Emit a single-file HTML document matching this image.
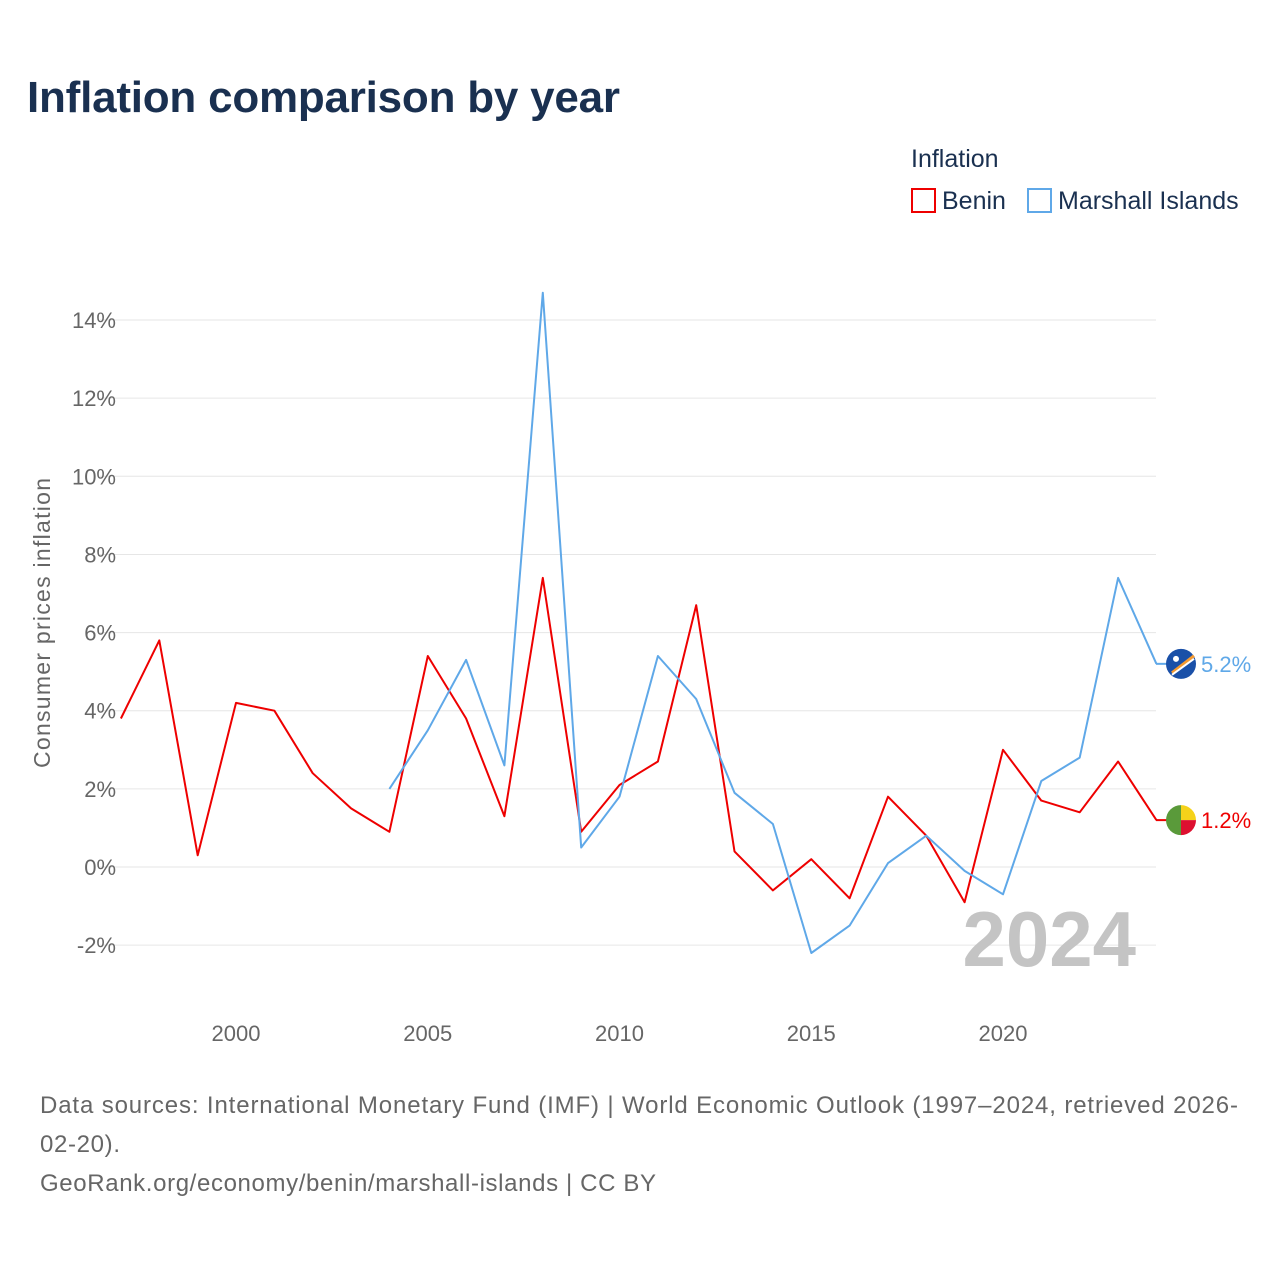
<!DOCTYPE html>
<html><head><meta charset="utf-8"><style>
body{margin:0;width:1280px;height:1280px;background:#fff;font-family:"Liberation Sans",sans-serif;overflow:hidden}
svg text{font-family:"Liberation Sans",sans-serif}
</style></head><body>
<svg id="chart" width="1280" height="1280">
<text x="27" y="112" font-size="44" font-weight="bold" fill="#1a3050" textLength="593">Inflation comparison by year</text>
<text x="911" y="167" font-size="25" fill="#1a3050">Inflation</text>
<g><rect x="912" y="189" width="23" height="23" fill="none" stroke="#ee0000" stroke-width="2"/><text x="942" y="209" font-size="25" fill="#1a3050">Benin</text></g>
<g><rect x="1028" y="189" width="23" height="23" fill="none" stroke="#5fa8e8" stroke-width="2"/><text x="1058" y="209" font-size="25" fill="#1a3050">Marshall Islands</text></g>
<text transform="translate(50,623) rotate(-90)" text-anchor="middle" font-size="23" fill="#666" textLength="290">Consumer prices inflation</text>
<g id="grid"></g><g id="xt"></g>
<text x="1136" y="966" text-anchor="end" font-size="78" font-weight="bold" fill="#c4c4c4">2024</text>
<g id="series"></g>
<text x="40" y="1113" font-size="24" fill="#666" textLength="1198">Data sources: International Monetary Fund (IMF) | World Economic Outlook (1997–2024, retrieved 2026-</text>
<text x="40" y="1152" font-size="24" fill="#666" textLength="80">02-20).</text>
<text x="40" y="1191" font-size="24" fill="#666" textLength="616">GeoRank.org/economy/benin/marshall-islands | CC BY</text>
</svg>
<script>
const years=[1997,1998,1999,2000,2001,2002,2003,2004,2005,2006,2007,2008,2009,2010,2011,2012,2013,2014,2015,2016,2017,2018,2019,2020,2021,2022,2023,2024];
const benin=[3.8,5.8,0.3,4.2,4.0,2.4,1.5,0.9,5.4,3.8,1.3,7.4,0.9,2.1,2.7,6.7,0.4,-0.6,0.2,-0.8,1.8,0.8,-0.9,3.0,1.7,1.4,2.7,1.2];
const marshall=[null,null,null,null,null,null,null,2.0,3.5,5.3,2.6,14.7,0.5,1.8,5.4,4.3,1.9,1.1,-2.2,-1.5,0.1,0.8,-0.1,-0.7,2.2,2.8,7.4,5.2];
const yTicks=[-2,0,2,4,6,8,10,12,14];
const xTicks=[2000,2005,2010,2015,2020];
const NS="http://www.w3.org/2000/svg";
const X=y=>236+(y-2000)*38.35;
const Y=v=>867-v*39.07;
function mk(tag,attrs,parent){const e=document.createElementNS(NS,tag);for(const k in attrs)e.setAttribute(k,attrs[k]);parent.appendChild(e);return e;}
const grid=document.getElementById('grid');
yTicks.forEach(t=>{
 const l=mk('line',{x1:100,x2:1156,y1:Y(t),y2:Y(t),stroke:'#e6e6e6','stroke-width':1},grid);
 
 
 const tx=mk('text',{x:116,y:Y(t)+8,'text-anchor':'end','font-size':22,fill:'#666'},grid);
 tx.textContent=t+'%';
 
 
});
const xt=document.getElementById('xt');
xTicks.forEach(t=>{
 const tx=mk('text',{x:X(t),y:1041,'text-anchor':'middle','font-size':22,fill:'#666'},xt);
 tx.textContent=t;
 
 
});
const sg=document.getElementById('series');
function line(vals,color,name){
 let d='';let started=false;
 vals.forEach((v,i)=>{if(v===null)return;d+=(started?'L':'M')+X(years[i]).toFixed(1)+','+Y(v).toFixed(1);started=true;});
 const p=mk('path',{d:d,fill:'none',stroke:color,'stroke-width':2,'stroke-linejoin':'round'},sg);
 
 
 const last=vals[vals.length-1];const yy=Y(last);
 mk('line',{x1:1156,x2:1168,y1:yy,y2:yy,stroke:color,'stroke-width':2},sg);
 const lab=mk('text',{x:1201,y:yy+8,'font-size':22,fill:color},sg);
 lab.textContent=last.toFixed(1)+'%';
 
 
 return yy;
}
const yb=line(benin,'#ee0000','benin');
const ym=line(marshall,'#5fa8e8','marshall-islands');
const fb=mk('g',{},sg);


mk('path',{d:`M1181,${yb-15} A15,15 0 0 0 1181,${yb+15} Z`,fill:'#5a9a3a'},fb);
mk('path',{d:`M1181,${yb-15} A15,15 0 0 1 1196,${yb} L1181,${yb} Z`,fill:'#f5d21a'},fb);
mk('path',{d:`M1181,${yb} L1196,${yb} A15,15 0 0 1 1181,${yb+15} Z`,fill:'#dd1030'},fb);
const fm=mk('g',{},sg);


mk('circle',{cx:1181,cy:ym,r:15,fill:'#1a50a8'},fm);
mk('line',{x1:1172,y1:ym+9,x2:1194,y2:ym-8,stroke:'#f59a30','stroke-width':3},fm);
mk('line',{x1:1172,y1:ym+11,x2:1194,y2:ym-5,stroke:'#fff','stroke-width':2},fm);
mk('circle',{cx:1176,cy:ym-5,r:3,fill:'#fff'},fm);
</script>
</body></html>
